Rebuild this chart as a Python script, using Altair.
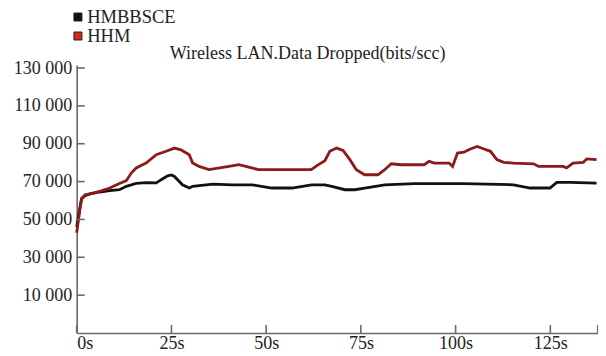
import altair as alt
import pandas as pd

# ---- data ----
series_names = ["HMBBSCE", "HHM"]

hhm_t = [0, 0.9, 1.3, 2.2, 3.5, 6.1, 8.7, 11.3, 13.1, 14.4, 15.7, 18.3, 21.0, 23.6,
         25.8, 27.5, 29.7, 30.6, 32.3, 34.9, 40.2, 42.8, 46.2, 48.0, 56.7, 61.9,
         63.8, 65.5, 66.8, 68.6, 70.3, 72.1, 73.8, 76.0, 79.5, 81.3, 83.0, 85.6,
         91.7, 93.0, 94.4, 98.3, 99.2, 100.5, 102.2, 103.9, 105.7, 107.5, 109.2,
         110.9, 112.7, 115.3, 120.6, 121.9, 128.4, 129.3, 131.0, 133.7, 134.6, 137.2]
hhm_v = [43000, 56000, 61000, 63000, 63500, 64800, 66600, 69000, 70500, 74500,
         77200, 79800, 84200, 86000, 87700, 86800, 84200, 79800, 78000, 76300,
         78000, 78900, 77200, 76300, 76300, 76300, 79000, 81000, 86000, 87700,
         86500, 81600, 76300, 73600, 73600, 76300, 79400, 78900, 78900, 80700,
         79800, 79800, 78000, 85100, 85500, 87200, 88600, 87200, 86000, 81600,
         80200, 79800, 79400, 78000, 78000, 77200, 79800, 80200, 82000, 81600]

hmb_t = [0, 0.9, 1.3, 2.2, 3.5, 6.1, 8.7, 11.3, 13.1, 15.7, 18.3, 21.0, 22.3, 24.0,
         25.0, 25.8, 27.9, 29.7, 30.6, 35.9, 41.1, 46.3, 51.5, 56.8, 62.0, 65.5,
         67.3, 70.8, 73.4, 76.0, 81.3, 89.1, 102.2, 115.3, 119.7, 124.9, 126.7,
         130.2, 137.2]
hmb_v = [46000, 56900, 61000, 62500, 63500, 64500, 65200, 65700, 67500, 69000,
         69500, 69300, 71000, 73000, 73500, 72700, 68300, 66600, 67500, 68700,
         68300, 68300, 66600, 66600, 68300, 68300, 67500, 65700, 65700, 66600,
         68300, 68900, 68900, 68300, 66600, 66600, 69600, 69600, 69200]

y_ticks = [10000, 30000, 50000, 70000, 90000, 110000, 130000]
x_ticks = [0, 25, 50, 75, 100, 125]
x_end_tick = [137.5]

# ---- frames ----
df_hhm = pd.DataFrame({"t": hhm_t, "v": hhm_v, "series": series_names[1]})
df_hmb = pd.DataFrame({"t": hmb_t, "v": hmb_v, "series": series_names[0]})
df_leg = pd.DataFrame({"t": [0, 0], "v": [hmb_v[0], hhm_v[0]], "series": series_names})
df_yt = pd.DataFrame({"v": y_ticks})
df_xt = pd.DataFrame({"t": x_ticks + x_end_tick})

FONT = "'Liberation Serif', 'Times New Roman', Times, serif"
AXC = "#6a6a6a"
W, H = 521, 268

xscale = alt.Scale(domain=[0, 137.5], nice=False, zero=False)
yscale = alt.Scale(domain=[-10000, 131600], nice=False, zero=False)

x_axis = alt.Axis(values=x_ticks, ticks=False, tickSize=0, grid=False, title=None,
                  domainColor=AXC, domainWidth=1.6, labelFont=FONT, labelFontSize=18,
                  labelColor="#222", labelPadding=1, labelFlush=True,
                  labelExpr="datum.value + 's'")
y_axis = alt.Axis(values=y_ticks, ticks=False, tickSize=0, grid=False, title=None,
                  domainColor=AXC, domainWidth=1.6, labelFont=FONT, labelFontSize=18,
                  labelColor="#222", labelPadding=5,
                  labelExpr="replace(format(datum.value, ','), ',', ' ')")

black_line = alt.Chart(df_hmb).mark_line(color="#111111", strokeWidth=2.8).encode(
    x=alt.X("t:Q", scale=xscale, axis=x_axis),
    y=alt.Y("v:Q", scale=yscale, axis=y_axis),
)
red_line = alt.Chart(df_hhm).mark_line(color="#8b1a1a", strokeWidth=2.8).encode(
    x=alt.X("t:Q", scale=xscale),
    y=alt.Y("v:Q", scale=yscale),
)
legend_layer = alt.Chart(df_leg).mark_square(opacity=0, size=64).encode(
    x=alt.X("t:Q", scale=xscale),
    y=alt.Y("v:Q", scale=yscale),
    fill=alt.Fill("series:N",
                  scale=alt.Scale(domain=series_names, range=["#111111", "#d8261e"]),
                  legend=alt.Legend(title=None, orient="none", legendX=-8, legendY=-56,
                                    symbolType="square", symbolSize=64,
                                    symbolOpacity=1, symbolStrokeColor="#222",
                                    symbolStrokeWidth=1, labelFont=FONT,
                                    labelFontSize=18.5, labelColor="#222",
                                    labelOffset=0, rowPadding=0, clipHeight=16,
                                    padding=0)),
)
ytick_rules = alt.Chart(df_yt).mark_rule(color=AXC, strokeWidth=1.6).encode(
    y=alt.Y("v:Q", scale=yscale), x=alt.value(0), x2=alt.value(8)
)
xtick_rules = alt.Chart(df_xt).mark_rule(color=AXC, strokeWidth=1.6).encode(
    x=alt.X("t:Q", scale=xscale), y=alt.value(H), y2=alt.value(H - 8)
)

chart = alt.layer(black_line, red_line, legend_layer, ytick_rules, xtick_rules).properties(
    width=W, height=H,
    autosize=alt.AutoSizeParams(type="none"),
    padding={"left": 68.7, "top": 57, "right": 0.3, "bottom": 19},
    title=alt.TitleParams("Wireless LAN.Data Dropped(bits/scc)", anchor="start", dx=93,
                          dy=60, frame="group", font=FONT, fontSize=18,
                          fontWeight="normal", color="#222", offset=6),
    background="white",
).configure_view(strokeWidth=0)

chart.save("out.html", embed_options={"renderer": "svg", "actions": False})
